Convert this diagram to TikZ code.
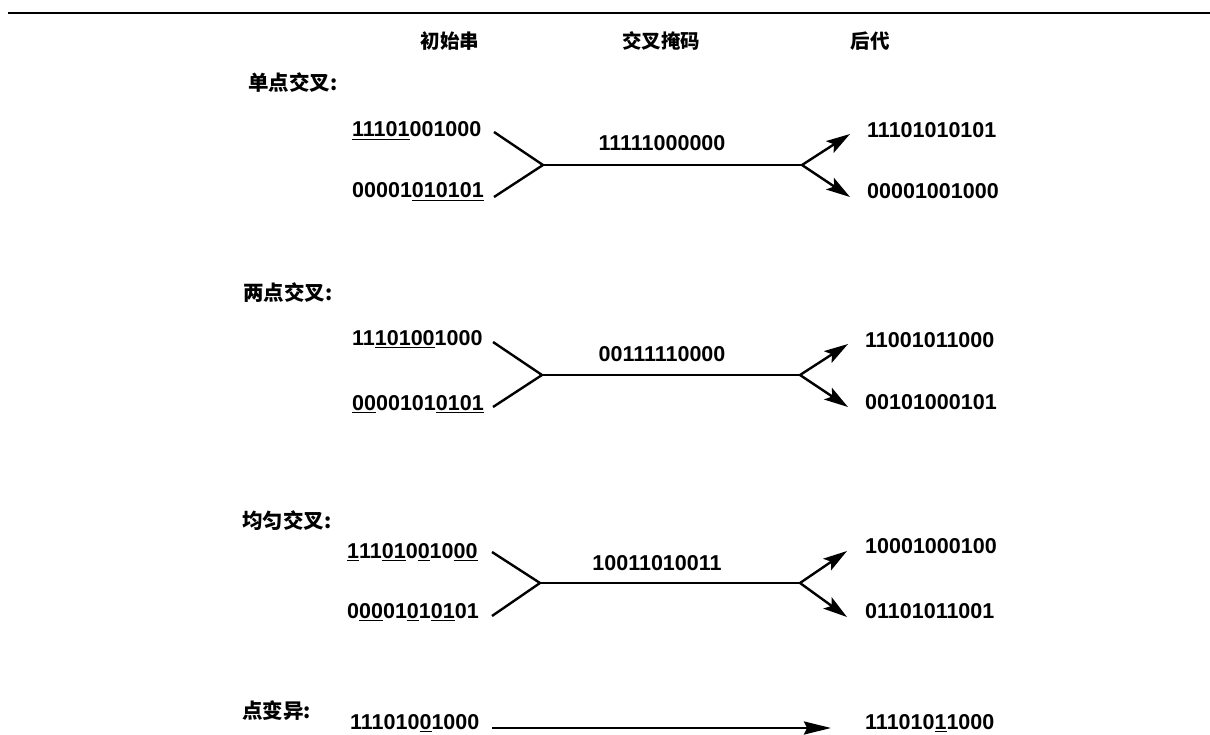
\documentclass[tikz,border=0pt]{standalone}
\usepackage{fontspec}
\setmainfont{Liberation Sans}
\newfontfamily\cjk{Noto Sans CJK SC}
\usetikzlibrary{arrows.meta}
\newbox\ulnbox
\newcommand\uln[1]{\setbox\ulnbox\hbox{#1}\rlap{\rule[-3.2pt]{\wd\ulnbox}{1.6pt}}\box\ulnbox\relax}
\begin{document}
\begin{tikzpicture}[x=1pt,y=-1pt,
  bits/.style={inner sep=0pt, anchor=base west, font=\bfseries\fontsize{21.5}{24}\selectfont},
  mask/.style={inner sep=0pt, anchor=base, font=\bfseries\fontsize{21.5}{24}\selectfont},
  lab/.style={inner sep=0pt, anchor=west, font=\cjk\bfseries\fontsize{20.5}{24}\selectfont},
  hdr/.style={inner sep=0pt, font=\cjk\bfseries\fontsize{19.5}{22}\selectfont},
  ln/.style={line width=2.4pt, line join=miter},
  arr/.style={line width=2.4pt, -{Stealth[length=24pt,width=14pt,inset=5pt]}},
  arrm/.style={line width=2.4pt, -{Stealth[length=27pt,width=13pt,inset=3pt]}}]
\useasboundingbox (0,0) rectangle (1210,735);
% top rule
\draw[line width=2pt] (8,13) -- (1210,13);
% headers
\node[hdr] (h1) at (450,41) {初始串};
\node[hdr] (h2) at (661,41) {交叉掩码};
\node[hdr] (h3) at (870,41) {后代};

% ---- single point crossover
\node[lab] (l1) at (248,83) {单点交叉:};
\node[bits] (a1) at (352,137) {\uln{11101}001000};
\node[bits] (b1) at (352,198) {00001\uln{010101}};
\node[mask] (m1) at (662,151) {11111000000};
\node[bits] (c1) at (867,138) {11101010101};
\node[bits] (d1) at (867,199) {00001001000};
\coordinate (a1s) at (494,132);
\coordinate (b1s) at (494,197);
\coordinate (j1) at (543,165);
\coordinate (k1) at (802,165);
\coordinate (t1u) at (850,134);
\coordinate (t1d) at (850,197);
\draw[ln] (a1s) -- (j1) -- (b1s);
\draw[ln] (j1) -- (k1);
\draw[arr] (k1) -- (t1u);
\draw[arr] (k1) -- (t1d);

% ---- two point crossover
\node[lab] (l2) at (243,293) {两点交叉:};
\node[bits] (a2) at (352,345) {11\uln{10100}1000};
\node[bits] (b2) at (352,410) {\uln{00}00101\uln{0101}};
\node[mask] (m2) at (662,361) {00111110000};
\node[bits] (c2) at (865,347) {11001011000};
\node[bits] (d2) at (865,409) {00101000101};
\coordinate (a2s) at (493,342);
\coordinate (b2s) at (493,407);
\coordinate (j2) at (542,375);
\coordinate (k2) at (800,375);
\coordinate (t2u) at (848,344);
\coordinate (t2d) at (848,407);
\draw[ln] (a2s) -- (j2) -- (b2s);
\draw[ln] (j2) -- (k2);
\draw[arr] (k2) -- (t2u);
\draw[arr] (k2) -- (t2d);

% ---- uniform crossover
\node[lab] (l3) at (242,521) {均匀交叉:};
\node[bits] (a3) at (347,558) {\uln{1}11\uln{01}0\uln{0}10\uln{00}};
\node[bits] (b3) at (347,618) {0\uln{00}01\uln{0}1\uln{01}01};
\node[mask] (m3) at (657,570) {10011010011};
\node[bits] (c3) at (865,553) {10001000100};
\node[bits] (d3) at (865,618) {01101011001};
\coordinate (a3s) at (492,552);
\coordinate (b3s) at (492,616);
\coordinate (j3) at (540,583);
\coordinate (k3) at (800,583);
\coordinate (t3u) at (847,551);
\coordinate (t3d) at (847,617);
\draw[ln] (a3s) -- (j3) -- (b3s);
\draw[ln] (j3) -- (k3);
\draw[arr] (k3) -- (t3u);
\draw[arr] (k3) -- (t3d);

% ---- point mutation
\node[lab] (l4) at (242,711) {点变异:};
\node[bits] (a4) at (350,729) {111010\uln{0}1000};
\node[bits] (c4) at (865,729) {111010\uln{1}1000};
\coordinate (a4s) at (492,728);
\coordinate (c4e) at (831,728);
\draw[arrm] (a4s) -- (c4e);
\end{tikzpicture}
\end{document}
